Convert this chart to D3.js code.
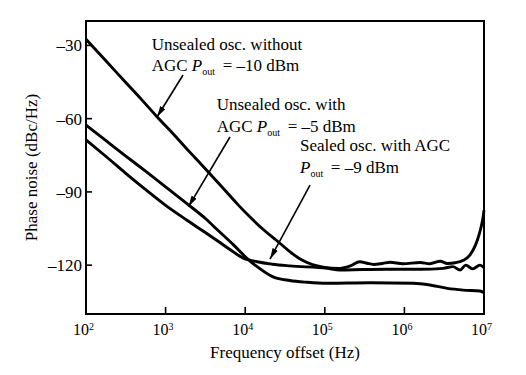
<!DOCTYPE html>
<html>
<head>
<meta charset="utf-8">
<script src="https://cdn.jsdelivr.net/npm/d3@7"></script>
<style>
  body { margin: 0; background: #fff; }
  text { font-family: "Liberation Serif", "Times New Roman", serif; fill: #000; }
</style>
</head>
<body>
<svg id="chart" width="526" height="375"></svg>
<script>
// axis ticks
const xTicks = [1e2, 1e3, 1e4, 1e5, 1e6, 1e7];
const yTicks = [-30, -60, -90, -120];

// unsealed osc. without AGC, Pout = -10 dBm
const freqNoAgc = [100, 180, 316, 500, 759, 1300, 2000, 3236, 5250, 8000, 11500, 17000, 25100, 35000, 49000, 70000, 95500,
  155000, 209000, 275000, 339000, 407000, 530000, 661000, 955000, 1.58e6, 2.09e6, 2.82e6, 3.47e6, 4.37e6, 5.5e6, 6.6e6,
  7.76e6, 8.3e6, 9.1e6, 9.77e6, 1e7];
const noiseNoAgc = [-27.5, -36.5, -45.2, -52.2, -58.8, -66.9, -73.6, -80.9, -88.4, -95, -100.3, -105.5, -110, -114, -117.5, -119.8, -120.8,
  -121.3, -120.3, -118.6, -119.2, -119.7, -119.3, -118.8, -119.4, -118.9, -119.4, -118.4, -119.3, -119, -118, -116,
  -112, -109.5, -105, -100, -97.5];

// unsealed osc. with AGC, Pout = -5 dBm
const freqUnsealed = [100, 180, 316, 560, 1000, 1820, 3240, 4570, 7080, 10500, 14100, 22400, 36300, 60000, 107000, 372000,
  1.29e6, 2.09e6, 3.47e6, 5.5e6, 8.9e6, 1e7];
const noiseUnsealed = [-62.6, -69.1, -75.3, -81.5, -87.9, -94.6, -101.2, -105.8, -111.6, -117.2, -120.6, -124.8, -126.3, -127, -127.4, -127.2,
  -127.4, -128.1, -129.5, -130.2, -130.6, -131.3];

// sealed osc. with AGC, Pout = -9 dBm
const freqSealed = [100, 180, 316, 562, 1000, 1820, 2950, 4470, 6500, 9330, 14100, 22000, 36300, 107000, 155000, 300000,
  603000, 1.58e6, 3.09e6, 4.07e6, 5e6, 5.9e6, 7.2e6, 8.9e6, 1e7];
const noiseSealed = [-68.7, -75.6, -82.4, -89.1, -95.5, -101.4, -106, -110, -113.7, -117, -118.6, -119.6, -120.3, -121.3, -122, -121.8,
  -121.7, -121.7, -121.3, -120.6, -122, -120, -121.5, -120, -121];

// annotation texts, arrow tail and tip in data units
const notes = [
  { lines: ["Unsealed osc. without", "AGC |P|out| = \u201310 dBm"], x: 151.7, y: 49.5, from: [1656, -42.1], to: [780, -59.3] },
  { lines: ["Unsealed osc. with", "AGC |P|out| = \u20135 dBm"], x: 216.7, y: 110, from: [6440, -67.5], to: [1941, -96] },
  { lines: ["Sealed osc. with AGC", "|P|out| = \u20139 dBm"], x: 300, y: 151.3, from: [65200, -87.2], to: [20500, -117.5] }
];

const svg = d3.select('#chart');
const margin = { top: 21, right: 42, bottom: 61, left: 86 };
const width = +svg.attr('width') - margin.left - margin.right;
const height = +svg.attr('height') - margin.top - margin.bottom;

const x = d3.scaleLog().domain([1e2, 1e7]).range([0, width]);
const y = d3.scaleLinear().domain([-140, -20]).range([height, 0]);

svg.append('defs').append('marker')
  .attr('id', 'arrow')
  .attr('viewBox', '0 0 11 6')
  .attr('refX', 11).attr('refY', 3)
  .attr('markerUnits', 'userSpaceOnUse')
  .attr('markerWidth', 11).attr('markerHeight', 6)
  .attr('orient', 'auto')
  .append('path').attr('d', 'M0,0L11,3L0,6Z').attr('fill', '#000');

const g = svg.append('g').attr('transform', 'translate(' + margin.left + ',' + margin.top + ')');

// ticks inside the frame
g.selectAll('.xtick').data(xTicks).enter().append('line')
  .attr('x1', d => x(d)).attr('x2', d => x(d))
  .attr('y1', height).attr('y2', height - 7)
  .attr('stroke', '#000').attr('stroke-width', 1.6);

g.selectAll('.ytick').data(yTicks).enter().append('line')
  .attr('x1', 0).attr('x2', 6)
  .attr('y1', d => y(d)).attr('y2', d => y(d))
  .attr('stroke', '#000').attr('stroke-width', 1.6);

const xl = g.selectAll('.xlab').data(xTicks).enter().append('text')
  .attr('x', d => x(d) - 13)
  .attr('y', height + 21)
  .style('font-size', '16px');
xl.append('tspan').text('10');
xl.append('tspan').attr('dy', -5).style('font-size', '10px').text(d => Math.round(Math.log10(d)));

g.selectAll('.ylab').data(yTicks).enter().append('text')
  .attr('x', -4)
  .attr('y', d => y(d) + 6)
  .attr('text-anchor', 'end')
  .style('font-size', '17px')
  .text(d => '\u2013' + Math.abs(d));

g.append('text')
  .attr('x', width / 2).attr('y', height + 44)
  .attr('text-anchor', 'middle')
  .style('font-size', '17px')
  .text('Frequency offset (Hz)');

g.append('text')
  .attr('transform', 'translate(' + (37 - margin.left) + ',' + (height / 2) + ') rotate(-90)')
  .attr('text-anchor', 'middle')
  .style('font-size', '17px')
  .text('Phase noise (dBc/Hz)');

// curves
const line = d3.line().x(d => x(d[0])).y(d => y(d[1])).curve(d3.curveMonotoneX);
const series = [
  d3.zip(freqNoAgc, noiseNoAgc),
  d3.zip(freqUnsealed, noiseUnsealed),
  d3.zip(freqSealed, noiseSealed)
];
g.selectAll('.curve').data(series).enter().append('path')
  .attr('d', line)
  .attr('fill', 'none')
  .attr('stroke', '#000')
  .attr('stroke-width', 2.9)
  .attr('stroke-linejoin', 'round');

// frame
g.append('rect')
  .attr('width', width).attr('height', height)
  .attr('fill', 'none').attr('stroke', '#000').attr('stroke-width', 2);

// annotations
notes.forEach(n => {
  n.lines.forEach((ln, i) => {
    const t = svg.append('text')
      .attr('x', n.x).attr('y', n.y + i * 21.7)
      .style('font-size', '17px');
    ln.split('|').forEach((part, k) => {
      if (k === 1) t.append('tspan').style('font-style', 'italic').text(part);
      else if (k === 2) t.append('tspan').attr('dy', 4).style('font-size', '10px').text(part);
      else if (k === 3) t.append('tspan').attr('dy', -4).text('\u2009' + part);
      else t.append('tspan').text(part);
    });
  });
  g.append('line')
    .attr('x1', x(n.from[0])).attr('y1', y(n.from[1]))
    .attr('x2', x(n.to[0])).attr('y2', y(n.to[1]))
    .attr('stroke', '#000').attr('stroke-width', 1.6)
    .attr('marker-end', 'url(#arrow)');
});
</script>
</body>
</html>
